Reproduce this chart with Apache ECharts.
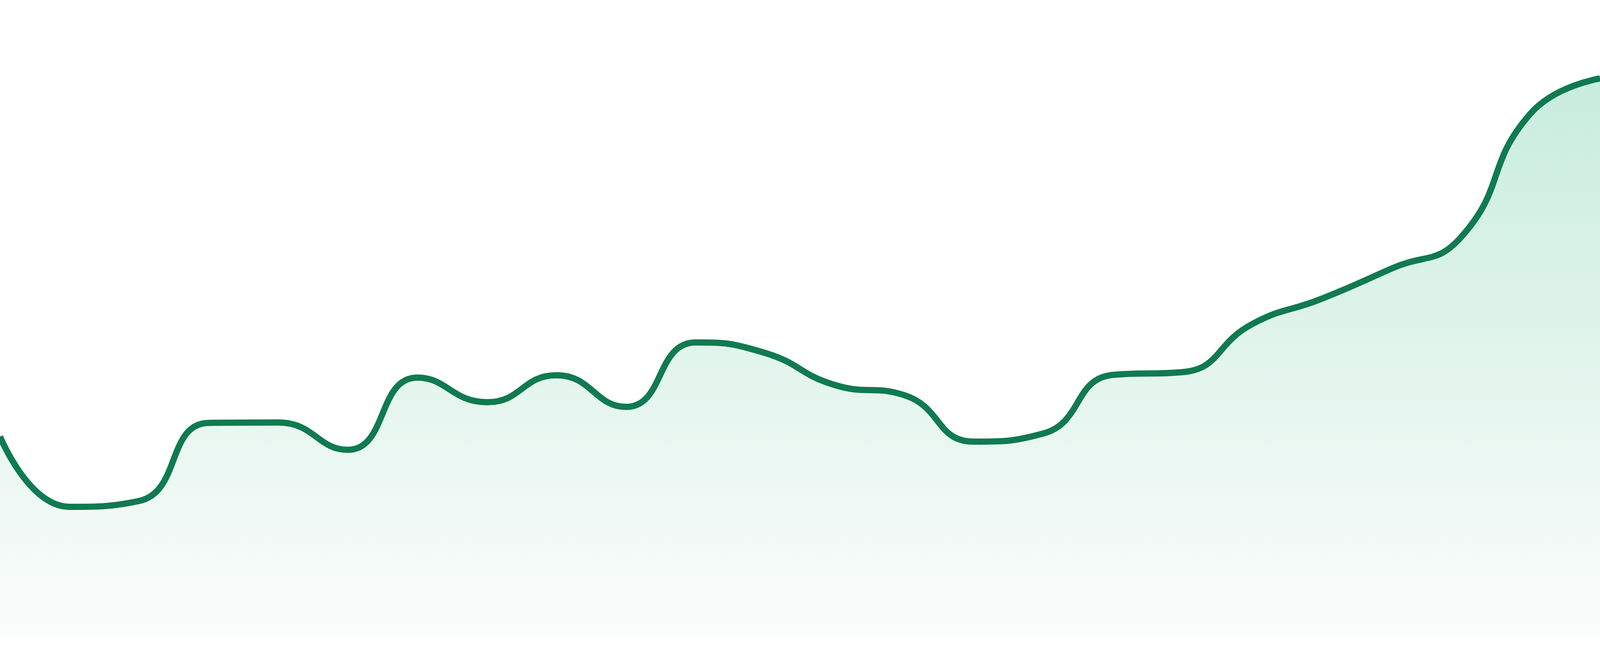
<!DOCTYPE html>
<html>
<head>
<meta charset="utf-8">
<script src="https://cdn.jsdelivr.net/npm/echarts@6/dist/echarts.min.js"></script>
<style>
  html, body { margin: 0; padding: 0; width: 100%; height: 100%; overflow: hidden; background: #ffffff; }
  #chart { width: 100vw; height: 100vh; }
</style>
</head>
<body>
<div id="chart"></div>
<script>
// Categories (no labels are shown in the reference)
const categories = [
  'P01','P02','P03','P04','P05','P06','P07','P08','P09','P10','P11','P12',
  'P13','P14','P15','P16','P17','P18','P19','P20','P21','P22','P23','P24'
];

// Series values
const values = [
  51.4, 33.4, 34.9, 54.9, 55.0, 48.0, 66.5, 60.2, 67.1, 59.0, 75.5, 72.8,
  64.6, 62.0, 50.1, 52.2, 67.2, 67.9, 80.2, 86.7, 94.4, 102.4, 134.1, 143.1
];

const yMin = 0;
const yMax = 163.2;

const chart = echarts.init(document.getElementById('chart'), null, { renderer: 'canvas' });
chart.setOption({
  animation: false,
  backgroundColor: '#ffffff',
  grid: { left: 0, right: 0, top: 0, bottom: '2.857%', containLabel: false },
  xAxis: {
    type: 'category',
    data: categories,
    boundaryGap: false,
    show: false
  },
  yAxis: {
    type: 'value',
    min: yMin,
    max: yMax,
    show: false,
    splitLine: { show: false }
  },
  series: [{
    type: 'line',
    data: values,
    smooth: true,
    symbol: 'none',
    lineStyle: { color: '#107a50', width: 16 },
    itemStyle: { color: '#107a50' },
    areaStyle: {
      color: new echarts.graphic.LinearGradient(0, 0, 0, 1, [
        { offset: 0, color: '#b0e4cf' },
        { offset: 1, color: '#fafcfb' }
      ])
    }
  }]
});
window.addEventListener('resize', function () { chart.resize(); });
</script>
</body>
</html>
